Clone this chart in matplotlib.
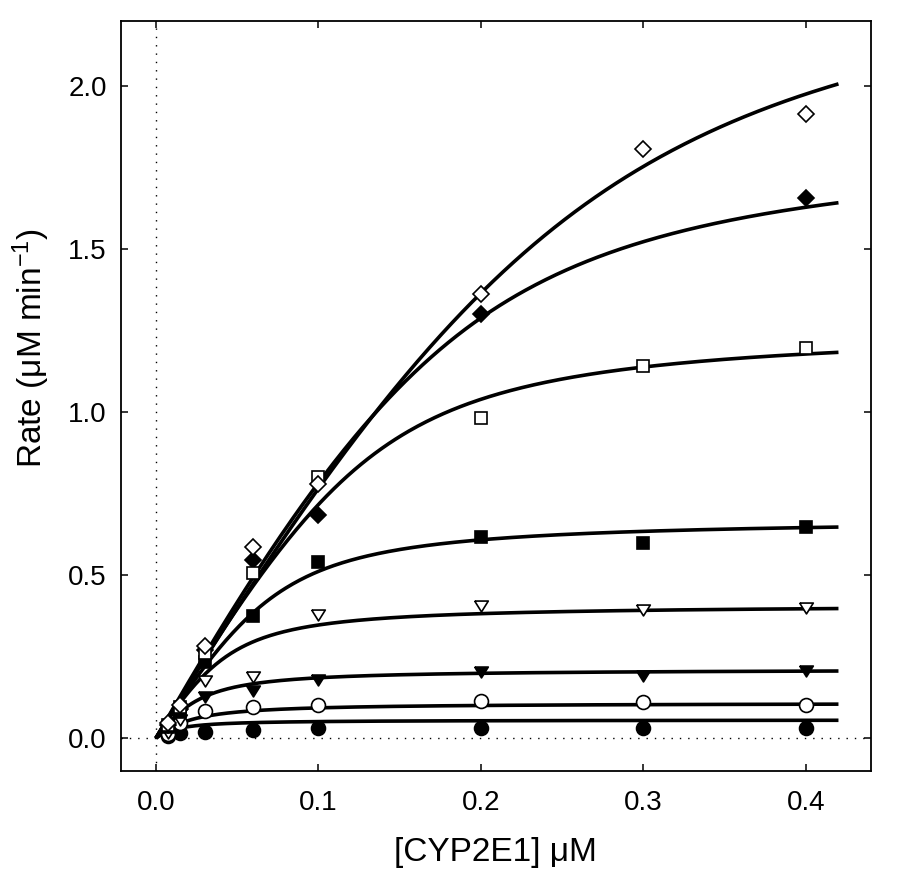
import numpy as np
import matplotlib
matplotlib.use("Agg")
import matplotlib.pyplot as plt
from matplotlib.ticker import FormatStrFormatter

# CYP2E1 concentrations (uM) used for the measured points
conc = [0.0075, 0.015, 0.03, 0.06, 0.1, 0.2, 0.3, 0.4]

rate_open_diamond = [0.046, 0.102, 0.284, 0.586, 0.779, 1.364, 1.807, 1.914]
rate_filled_diamond = [0.040, 0.090, 0.270, 0.547, 0.685, 1.300, np.nan, 1.656]
rate_open_square = [0.040, 0.095, 0.262, 0.508, 0.802, 0.981, 1.142, 1.196]
rate_filled_square = [0.035, 0.080, 0.232, 0.376, 0.540, 0.616, 0.598, 0.649]
rate_open_tri = [0.015, 0.056, 0.176, 0.186, 0.378, 0.405, 0.393, 0.398]
rate_filled_tri = [0.030, 0.075, 0.125, 0.143, 0.179, 0.204, 0.192, 0.206]
rate_open_circle = [0.012, 0.045, 0.082, 0.095, 0.102, 0.113, 0.111, 0.103]
rate_filled_circle = [0.008, 0.015, 0.020, 0.026, 0.031, 0.031, 0.031, 0.031]

# fitted curves, tight-binding (quadratic) form: Vmax, partner conc, Kd
fit_vmax = [0.056, 0.108, 0.212, 0.41, 0.675, 1.263, 1.845, 2.47]
fit_partner = [0.005, 0.010, 0.020, 0.040, 0.070, 0.13, 0.18, 0.25]
fit_kd = [0.010, 0.015, 0.012, 0.012, 0.015, 0.020, 0.032, 0.050]
fit_xmax = 0.42


def tight_binding(e, vmax, r, kd):
    b = e + r + kd
    return vmax * (b - np.sqrt(b**2 - 4 * e * r)) / (2 * r)


plt.rcParams["font.family"] = ["Liberation Sans", "DejaVu Sans"]
plt.rcParams["mathtext.default"] = "regular"

fig = plt.figure(figsize=(9.04, 8.80), dpi=100)
ax = fig.add_axes([0.1335, 0.1242, 0.8296, 0.8519])

# dotted zero lines
ax.axhline(0, color="black", lw=1.0, ls=(0, (1, 5)), zorder=1)
ax.axvline(0, color="black", lw=1.0, ls=(0, (1, 5)), zorder=1)

xs = np.linspace(0, fit_xmax, 400)
for vm, r, kd in zip(fit_vmax, fit_partner, fit_kd):
    ax.plot(xs, tight_binding(xs, vm, r, kd), color="black", lw=2.6,
            solid_capstyle="butt", zorder=2)

tri_down = [(-1, 0.8), (1, 0.8), (0, -0.8), (-1, 0.8)]
series = [
    (rate_filled_circle, "o", 10, "black"),
    (rate_open_circle, "o", 10, "white"),
    (rate_filled_tri, tri_down, 9.8, "black"),
    (rate_open_tri, tri_down, 9.8, "white"),
    (rate_filled_square, "s", 9, "black"),
    (rate_filled_diamond, "D", 8.4, "black"),
    (rate_open_square, "s", 9, "white"),
    (rate_open_diamond, "D", 8.4, "white"),
]
for vals, mk, ms, fc in series:
    ax.plot(conc, vals, ls="none", marker=mk, ms=ms, mfc=fc, mec="black",
            mew=1.2, zorder=3)

ax.set_xlim(-0.0217, 0.4398)
ax.set_ylim(-0.1, 2.2)
ax.set_xticks([0.0, 0.1, 0.2, 0.3, 0.4])
ax.set_yticks([0.0, 0.5, 1.0, 1.5, 2.0])
ax.xaxis.set_major_formatter(FormatStrFormatter("%.1f"))
ax.yaxis.set_major_formatter(FormatStrFormatter("%.1f"))
ax.tick_params(direction="in", length=5, width=1.1, top=True, right=True,
               labelsize=20)
ax.tick_params(axis="x", pad=14)
ax.tick_params(axis="y", pad=10)
for sp in ax.spines.values():
    sp.set_linewidth(1.3)

ax.set_xlabel("[CYP2E1] μM", fontsize=24)
ax.set_ylabel("Rate (μM min$^{-1}$)", fontsize=24)
ax.xaxis.set_label_coords(0.5, -0.088)
ax.yaxis.set_label_coords(-0.092, 0.564)

fig.savefig("out.png", dpi=100)
